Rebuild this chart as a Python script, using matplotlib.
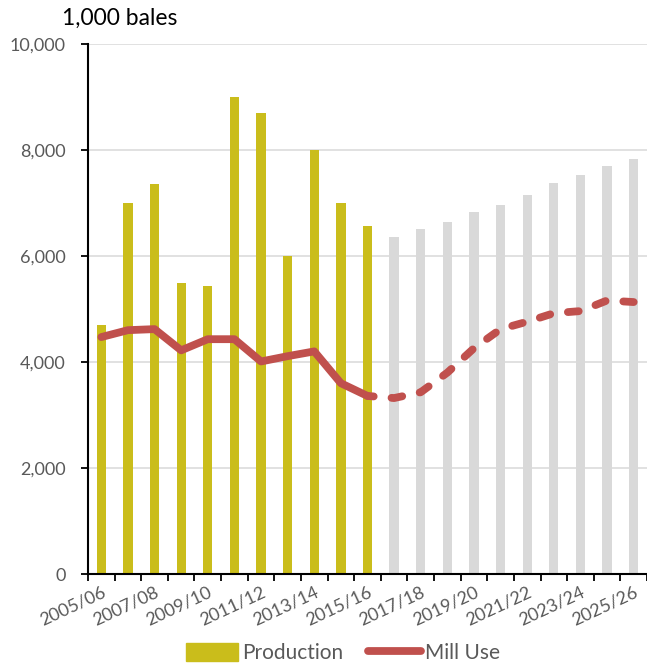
import numpy as np
import matplotlib
matplotlib.use("Agg")
import matplotlib.pyplot as plt
from matplotlib.patches import Patch
from matplotlib.lines import Line2D

plt.rcParams["font.family"] = ["Lato", "DejaVu Sans"]

''' Data '''
years = ["2005/06", "2006/07", "2007/08", "2008/09", "2009/10", "2010/11",
         "2011/12", "2012/13", "2013/14", "2014/15", "2015/16", "2016/17",
         "2017/18", "2018/19", "2019/20", "2020/21", "2021/22", "2022/23",
         "2023/24", "2024/25", "2025/26"]
production = [4700, 7000, 7350, 5480, 5440, 9000, 8700, 6000, 8000, 7000, 6570,
              6360, 6510, 6640, 6830, 6960, 7150, 7380, 7530, 7700, 7830]
mill_use = [4470, 4600, 4620, 4220, 4430, 4430, 4010, 4110, 4200, 3600, 3360,
            3320, 3430, 3800, 4260, 4620, 4760, 4920, 4960, 5160, 5130]
n_hist = 11   # first 11 years are actuals, rest are projections

PROD_COLOR = "#CABD1B"
PROJ_COLOR = "#D9D9D9"
LINE_COLOR = "#C0504D"
TEXT_COLOR = "#595959"

''' Plot '''
fig = plt.figure(figsize=(6.47, 6.63), dpi=100)
ax = fig.add_axes([0.136, 0.134, 0.864, 0.8])

x = np.arange(len(years))
bar_colors = [PROD_COLOR if i < n_hist else PROJ_COLOR for i in x]
ax.bar(x, production, width=0.35, color=bar_colors, zorder=2)

lw = 5.6
ax.plot(x[:n_hist], mill_use[:n_hist], color=LINE_COLOR, lw=lw,
        solid_capstyle="round", solid_joinstyle="round", zorder=3)
ax.plot(x[n_hist - 1:], mill_use[n_hist - 1:], color=LINE_COLOR, lw=lw,
        linestyle=(0.6, (1.4, 2.3)), dash_capstyle="round",
        dash_joinstyle="round", zorder=3)

ax.set_xlim(-0.5, len(years) - 0.5)
ax.set_ylim(0, 10000)
ax.set_yticks(range(0, 10001, 2000))
ax.set_yticklabels([f"{v:,}" for v in range(0, 10001, 2000)])
ax.yaxis.grid(True, color="#D9D9D9", lw=1.1, zorder=0)
ax.set_axisbelow(True)

ax.set_xticks(x[::2])
ax.set_xticklabels(years[::2], rotation=25, ha="right", va="top",
                   rotation_mode="anchor")
ax.set_xticks(np.arange(-0.5, len(years), 1), minor=True)
ax.tick_params(axis="x", which="major", length=0, pad=7, labelsize=13,
               labelcolor=TEXT_COLOR)
ax.tick_params(axis="x", which="minor", length=5, width=1.3, direction="out")
ax.tick_params(axis="y", length=5, width=1.3, pad=11, labelsize=13,
               labelcolor=TEXT_COLOR)

for s in ["top", "right"]:
    ax.spines[s].set_visible(False)
for s in ["left", "bottom"]:
    ax.spines[s].set_linewidth(1.5)

fig.text(0.096, 0.972, "1,000 bales", fontsize=16.5, color="black",
         ha="left", va="center")

handles = [Patch(color=PROD_COLOR),
           Line2D([0], [0], color=LINE_COLOR, lw=lw, solid_capstyle="round")]
fig.legend(handles, ["Production", "Mill Use"], loc="center",
           bbox_to_anchor=(0.53, 0.015), ncol=2, frameon=False, fontsize=15,
           labelcolor=TEXT_COLOR, handlelength=2.5, handleheight=0.9,
           handletextpad=0.2, columnspacing=1.2)

fig.savefig("out.png", dpi=100)
